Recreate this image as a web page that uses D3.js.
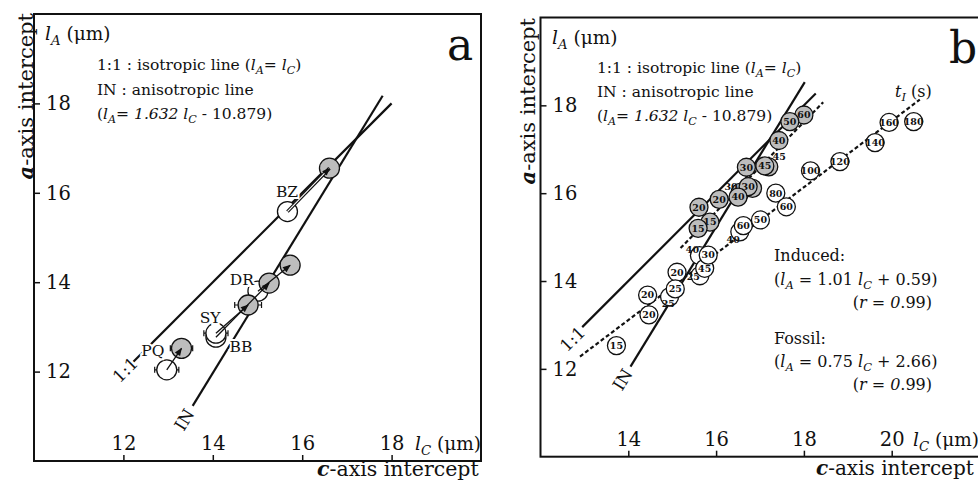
<!DOCTYPE html>
<html>
<head>
<meta charset="utf-8">
<script src="https://cdn.jsdelivr.net/npm/d3@7"></script>
<style>
body { margin: 0; background: #fff; }
svg text { font-family: "DejaVu Serif", serif; fill: #111; }
</style>
</head>
<body>
<svg id="fig" width="978" height="482"></svg>
<script>
// ---- panel a data ----
const aTicksX = [12, 14, 16, 18];
const aTicksY = [12, 14, 16, 18];
// open circles = starting intercepts, filled = after annealing
const aOpen = [
	{id: 'PQ', x: 12.97, y: 12.04, err: 0.27},
	{id: 'BB', x: 14.07, y: 12.77, err: 0},
	{id: 'SY', x: 14.07, y: 12.86, err: 0.27},
	{id: 'DR', x: 15.01, y: 13.80, err: 0},
	{id: 'BZ', x: 15.67, y: 15.58, err: 0}
];
const aFilled = [
	{id: 'PQ', x: 13.30, y: 12.52, err: 0.25},
	{id: 'SY', x: 14.79, y: 13.49, err: 0.3},
	{id: 'BB', x: 15.26, y: 13.98, err: 0},
	{id: 'DR', x: 15.73, y: 14.38, err: 0},
	{id: 'BZ', x: 16.61, y: 16.55, err: 0}
];
const aNames = [
	{t: 'PQ', x: 12.66, y: 12.48},
	{t: 'SY', x: 13.94, y: 13.20},
	{t: 'BB', x: 14.63, y: 12.55},
	{t: 'DR', x: 14.65, y: 14.05},
	{t: 'BZ', x: 15.66, y: 16.02}
];
const aIsoEnds = [12.2, 18.0];
const aAnisoEnds = [13.55, 17.8];

// ---- panel b data ----
const bTicksX = [14, 16, 18, 20];
const bTicksY = [12, 14, 16, 18];
const bIsoEnds = [12.95, 18.27];
const bAnisoEnds = [14.05, 18.02];
const bInducedFit = [[15.19, 14.75], [18.44, 18.07]];
const bFossilFit = [[12.9, 12.28], [20.64, 18.13]];
// induced (grey), partly hidden ones first
const bGrayBack = [
	{t: '15', x: 15.86, y: 15.34},
	{t: '30', x: 16.55, y: 16.02, lx: 16.34, ly: 16.14},
	{t: '', x: 16.83, y: 16.11},
	{t: '45', x: 17.20, y: 16.60, lx: 17.44, ly: 16.82}
];
const bGray = [
	{t: '20', x: 15.61, y: 15.68},
	{t: '15', x: 15.59, y: 15.20},
	{t: '20', x: 16.07, y: 15.86},
	{t: '30', x: 16.73, y: 16.15},
	{t: '40', x: 16.50, y: 15.91},
	{t: '30', x: 16.69, y: 16.59},
	{t: '45', x: 17.11, y: 16.62},
	{t: '40', x: 17.43, y: 17.20},
	{t: '60', x: 18.00, y: 17.78},
	{t: '50', x: 17.68, y: 17.63}
];
// fossil (open)
const bOpenBack = [
	{t: '25', x: 14.94, y: 13.64, lx: 14.91, ly: 13.48},
	{t: '25', x: 15.63, y: 14.12, lx: 15.48, ly: 14.09},
	{t: '40', x: 15.62, y: 14.58, lx: 15.46, ly: 14.72},
	{t: '40', x: 16.54, y: 15.12, lx: 16.39, ly: 14.95}
];
const bOpen = [
	{t: '15', x: 13.73, y: 12.53},
	{t: '20', x: 14.47, y: 13.23},
	{t: '20', x: 14.44, y: 13.68},
	{t: '20', x: 15.11, y: 14.20},
	{t: '25', x: 15.07, y: 13.82},
	{t: '45', x: 15.74, y: 14.29},
	{t: '30', x: 15.82, y: 14.59},
	{t: '60', x: 16.62, y: 15.26},
	{t: '50', x: 17.01, y: 15.39},
	{t: '80', x: 17.36, y: 16.00},
	{t: '60', x: 17.60, y: 15.69},
	{t: '100', x: 18.15, y: 16.51},
	{t: '120', x: 18.82, y: 16.72},
	{t: '140', x: 19.62, y: 17.15},
	{t: '160', x: 19.94, y: 17.61},
	{t: '180', x: 20.50, y: 17.63}
];

const inSlope = 1.632, inIcpt = -10.879;

// text pieces: [string, flags] i=italic b=bold s=subscript
const legendLines = [
	[['1:1 : isotropic line ('], ['l', 'i'], ['A', 'is'], ['= '], ['l', 'i'], ['C', 'is'], [')']],
	[['IN : anisotropic line']],
	[['('], ['l', 'i'], ['A', 'is'], ['= '], ['1.632 ', 'i'], ['l', 'i'], ['C', 'is'], [' - 10.879)']]
];
const yUnit = [['l', 'i'], ['A', 'is'], [' (μm)']];
const xUnit = [['l', 'i'], ['C', 'is'], [' (μm)']];
const yTitle = [['a', 'bi'], ['-axis intercept']];
const xTitle = [['c', 'bi'], ['-axis intercept']];

const svg = d3.select('#fig');
const ink = '#111', grey = '#bdbdbd';

svg.append('defs').append('marker')
	.attr('id', 'head')
	.attr('viewBox', '0 0 10 10')
	.attr('refX', 9).attr('refY', 5)
	.attr('markerWidth', 9).attr('markerHeight', 8)
	.attr('markerUnits', 'userSpaceOnUse')
	.attr('orient', 'auto')
	.append('path').attr('d', 'M0,1L10,5L0,9Z').attr('fill', ink);

function rich(g, x, y, parts, size, anchor) {
	const t = g.append('text').attr('x', x).attr('y', y)
		.attr('font-size', size).attr('text-anchor', anchor || 'start');
	let shift = 0;
	parts.forEach(([s, f = '']) => {
		const sub = f.includes('s');
		const target = sub ? size * 0.28 : 0;
		const ts = t.append('tspan').attr('dy', target - shift).text(s);
		shift = target;
		if (sub) ts.attr('font-size', size * 0.72);
		if (f.includes('i')) ts.attr('font-style', 'italic');
		if (f.includes('b')) ts.attr('font-weight', 'bold');
	});
	return t;
}

function panel(o) {
	const g = svg.append('g');
	const x = d3.scaleLinear().domain(o.xd).range(o.xr);
	const y = d3.scaleLinear().domain(o.yd).range(o.yr);
	g.append('g').attr('transform', `translate(0,${o.yr[0]})`)
		.call(d3.axisTop(x).tickValues(o.tx).tickSize(6).tickPadding(o.padX).tickFormat(d3.format('d')));
	g.append('g').attr('transform', `translate(${o.xr[0]},0)`)
		.call(d3.axisRight(y).tickValues(o.ty).tickSize(6).tickPadding(6).tickFormat(d3.format('d')));
	g.selectAll('.domain').remove();
	g.selectAll('.tick line').attr('stroke', ink).attr('stroke-width', 1.5);
	g.selectAll('.tick text').attr('font-family', 'DejaVu Serif').attr('font-size', 19.5).attr('fill', ink);
	g.append('rect')
		.attr('x', o.xr[0]).attr('y', o.yr[1])
		.attr('width', o.xr[1] - o.xr[0]).attr('height', o.yr[0] - o.yr[1])
		.attr('fill', 'none').attr('stroke', ink).attr('stroke-width', 2);
	return {g, x, y};
}

function segment(g, x, y, pts, dashed) {
	g.append('path')
		.attr('d', d3.line().x(d => x(d[0])).y(d => y(d[1]))(pts))
		.attr('fill', 'none').attr('stroke', ink)
		.attr('stroke-width', 2.2)
		.attr('stroke-dasharray', dashed ? '4,2.5' : null);
}

function sideLabel(g, cx, cy, txt, angle, size) {
	g.append('text')
		.attr('transform', `translate(${cx},${cy}) rotate(${angle})`)
		.attr('text-anchor', 'middle').attr('dy', '0.35em')
		.attr('font-size', size)
		.attr('stroke', '#fff').attr('stroke-width', 5).attr('paint-order', 'stroke')
		.text(txt);
}

// ================= panel a =================
{
	const {g, x, y} = panel({xd: [10, 20], yd: [10, 20], xr: [34, 481], yr: [461, 14],
		tx: aTicksX, ty: aTicksY, padX: 5});

	segment(g, x, y, aIsoEnds.map(v => [v, v]));
	segment(g, x, y, aAnisoEnds.map(v => [v, inSlope * v + inIcpt]));
	sideLabel(g, x(12.04), y(12.04), '1:1', -45, 17);
	sideLabel(g, x(13.36), y(inSlope * 13.36 + inIcpt), 'IN', -58.5, 17);

	const bars = aOpen.concat(aFilled).filter(d => d.err > 0);
	bars.forEach(d => {
		const x0 = x(d.x - d.err), x1 = x(d.x + d.err), cy = y(d.y);
		g.append('path')
			.attr('d', `M${x0},${cy}H${x1}M${x0},${cy - 3}V${cy + 3}M${x1},${cy - 3}V${cy + 3}`)
			.attr('stroke', ink).attr('stroke-width', 1.2).attr('fill', 'none');
	});

	g.append('g').selectAll('circle').data(aOpen).enter().append('circle')
		.attr('cx', d => x(d.x)).attr('cy', d => y(d.y)).attr('r', 10)
		.attr('fill', '#fff').attr('stroke', ink).attr('stroke-width', 1.3);
	g.append('g').selectAll('circle').data(aFilled).enter().append('circle')
		.attr('cx', d => x(d.x)).attr('cy', d => y(d.y)).attr('r', 10)
		.attr('fill', grey).attr('stroke', ink).attr('stroke-width', 1.3);

	aOpen.forEach(s => {
		const e = aFilled.find(f => f.id === s.id);
		const p = `M${x(s.x)},${y(s.y)}L${x(e.x)},${y(e.y)}`;
		if (s.id === 'BZ') {
			g.append('path').attr('d', p).attr('stroke', ink).attr('stroke-width', 3.4);
			g.append('path').attr('d', p).attr('stroke', '#fff').attr('stroke-width', 1.1);
			g.append('path').attr('d', p).attr('stroke', 'none').attr('marker-end', 'url(#head)');
		} else {
			g.append('path').attr('d', p).attr('stroke', ink).attr('stroke-width', 1.3)
				.attr('marker-end', 'url(#head)');
		}
	});

	g.selectAll('.name').data(aNames).enter().append('text')
		.attr('class', 'name')
		.attr('x', d => x(d.x)).attr('y', d => y(d.y)).attr('dy', '0.35em')
		.attr('text-anchor', 'middle').attr('font-size', 15.5)
		.attr('stroke', '#fff').attr('stroke-width', 4).attr('paint-order', 'stroke')
		.text(d => d.t);

	rich(g, 45, 40, yUnit, 18.5);
	g.append('text').attr('x', 447).attr('y', 60).attr('font-size', 44).text('a');
	legendLines.forEach((ln, i) => rich(g, 97, 70 + i * 24.5, ln, 15.5));
	rich(g, 415, 450, xUnit, 18.5);
	rich(g, 317, 476, xTitle, 20.5);
	rich(g, 0, 0, yTitle, 21, 'end').attr('transform', 'translate(33,13) rotate(-90)');
}

// ================= panel b =================
{
	const {g, x, y} = panel({xd: [12, 22], yd: [10, 20], xr: [540.5, 979.5], yr: [456.7, 17.5],
		tx: bTicksX, ty: bTicksY, padX: 4.5});

	segment(g, x, y, bIsoEnds.map(v => [v, v]));
	segment(g, x, y, bAnisoEnds.map(v => [v, inSlope * v + inIcpt]));
	segment(g, x, y, bInducedFit, true);
	segment(g, x, y, bFossilFit, true);
	sideLabel(g, x(12.73), y(12.68), '1:1', -45, 17);
	sideLabel(g, x(13.87), y(inSlope * 13.87 + inIcpt), 'IN', -58.5, 17);

	const dot = (set, fill) => {
		const n = g.append('g').selectAll('g').data(set).enter().append('g');
		n.append('circle')
			.attr('cx', d => x(d.x)).attr('cy', d => y(d.y)).attr('r', 9)
			.attr('fill', fill).attr('stroke', ink).attr('stroke-width', 1.3);
		n.filter(d => d.t).append('text')
			.attr('x', d => x(d.lx !== undefined ? d.lx : d.x))
			.attr('y', d => y(d.ly !== undefined ? d.ly : d.y))
			.attr('dy', '0.35em').attr('text-anchor', 'middle')
			.attr('font-size', 9.5).attr('font-weight', 'bold').attr('fill', '#333')
			.text(d => d.t);
	};
	dot(bOpenBack, '#fff');
	dot(bOpen, '#fff');
	dot(bGrayBack, grey);
	dot(bGray, grey);

	rich(g, 552, 44, yUnit, 18.5);
	g.append('text').attr('x', 949).attr('y', 63).attr('font-size', 44).text('b');
	legendLines.forEach((ln, i) => rich(g, 597, 73 + i * 24, ln, 15.5));
	rich(g, 895, 97, [['t', 'i'], ['I', 'is'], [' (s)']], 16);

	rich(g, 774, 261, [['Induced:']], 16);
	rich(g, 774, 285, [['('], ['l', 'i'], ['A', 'is'], [' =  1.01 '], ['l', 'i'], ['C', 'is'], [' +  0.59)']], 16);
	rich(g, 932, 308, [['('], ['r', 'i'], [' = '], ['0', 'i'], ['.99)']], 16, 'end');
	rich(g, 774, 344, [['Fossil:']], 16);
	rich(g, 774, 367, [['('], ['l', 'i'], ['A', 'is'], [' =  0.75 '], ['l', 'i'], ['C', 'is'], [' +  2.66)']], 16);
	rich(g, 932, 390, [['('], ['r', 'i'], [' = '], ['0', 'i'], ['.99)']], 16, 'end');

	rich(g, 913, 446, xUnit, 18.5);
	rich(g, 816, 475, xTitle, 20);
	rich(g, 0, 0, yTitle, 21, 'end').attr('transform', 'translate(535,18) rotate(-90)');
}
</script>
</body>
</html>
